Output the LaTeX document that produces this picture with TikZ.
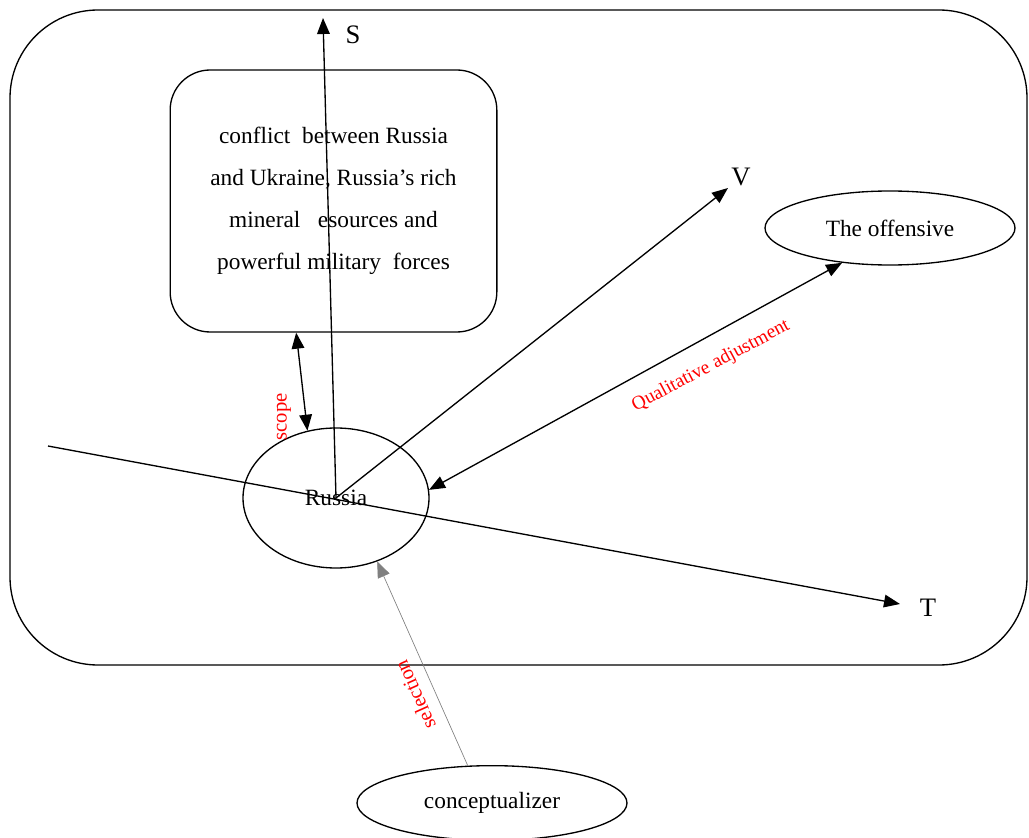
\documentclass[tikz,border=0pt]{standalone}
\usepackage{fontspec}
\setmainfont{Liberation Serif}
\usetikzlibrary{arrows.meta,shapes.geometric}

\tikzset{
	elli/.style = {draw, ellipse, inner sep=0pt, font=\fontsize{17.5}{20}\selectfont},
	roundbox/.style = {draw, rounded corners=30pt, align=center, font=\fontsize{17.5}{31.5}\selectfont},
	redlabel/.style = {text=red, inner sep=0pt, font=\fontsize{14}{14}\selectfont},
	axislabel/.style = {inner sep=0pt, font=\fontsize{20}{20}\selectfont},
	arr/.style = {-{Triangle[length=12pt,width=9.5pt]}},
	dblarr/.style = {{Triangle[length=12pt,width=9.5pt]}-{Triangle[length=12pt,width=9.5pt]}}
}

\begin{document}
\begin{tikzpicture}[x=0.75pt, y=-0.75pt, line width=1pt]
			\useasboundingbox (0,0) rectangle (1029,838);
			\draw[rounded corners=66pt] (10,10) rectangle (1027,665);
			\node[roundbox, minimum width=245pt, minimum height=196.5pt] (box) at (333.5,201) {conflict\ \ between Russia\\ and Ukraine, Russia’s rich\\ mineral\ \ \ esources and\\ powerful military\ \ forces};
			\node[elli, minimum width=139.5pt, minimum height=105pt] (russia) at (336,498) {Russia};
			\node[elli, minimum width=187.5pt, minimum height=55.5pt] (offensive) at (890,228) {The offensive};
			\node[elli, minimum width=202.5pt, minimum height=56pt] (concept) at (492,803) {conceptualizer};
			
			\coordinate (sEnd) at (323,18);
			\coordinate (vEnd) at (728,188);
			\coordinate (tStart) at (48,446);
			\coordinate (tEnd) at (900,604);
			\node[axislabel] (sLabel) at (353,35) {S};
			\node[axislabel] (vLabel) at (741,177) {V};
			\node[axislabel] (tLabel) at (928,608) {T};
			
			\draw[arr] (russia.center) -- (sEnd);
			\draw[arr] (russia.center) -- (vEnd);
			\draw[arr] (tStart) -- (tEnd);
			\draw[dblarr] (russia.5) -- (offensive.216);
			\draw[dblarr] ([xshift=-28pt]box.south) -- (russia.113);
			\draw[arr, line width=0.5pt, gray] (concept.123) -- (russia.-57);
			
			\node[redlabel, rotate=90, font=\fontsize{15.5}{15.5}\selectfont] (scopeLabel) at (284,417) {scope};
			\node[redlabel, rotate=114, font=\fontsize{15.5}{15.5}\selectfont] (selLabel) at (415,695) {selection};
			\node[redlabel, rotate=28, font=\fontsize{14.5}{14.5}\selectfont] (qualLabel) at (711,366) {Qualitative adjustment};
\end{tikzpicture}
\end{document}
